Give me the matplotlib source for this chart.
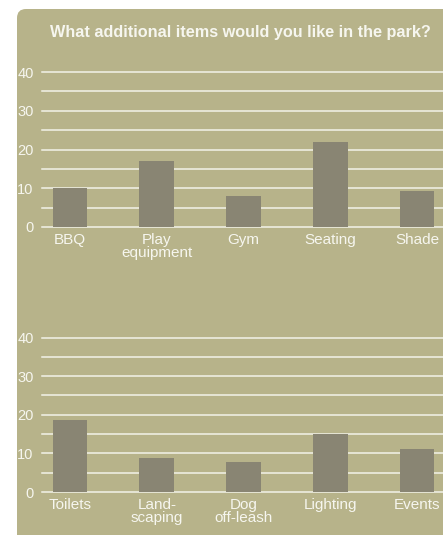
import matplotlib
matplotlib.use('Agg')
import numpy as np
import matplotlib.pyplot as plt
from matplotlib.patches import FancyBboxPatch

# data
title = 'What additional items would you like in the park?'
top_labels = ['BBQ', 'Play\nequipment', 'Gym', 'Seating', 'Shade']
top_values = [10, 17, 8, 22, 9.3]
bottom_labels = ['Toilets', 'Land-\nscaping', 'Dog\noff-leash', 'Lighting', 'Events']
bottom_values = [18.7, 8.9, 7.8, 15.1, 11.2]
y_ticks = [0, 10, 20, 30, 40]
grid_ticks = [5, 15, 25, 35]

BG = '#b7b38a'
BAR = '#898573'
GRID = '#f3f2e8'
TEXT = '#f6f6ef'

plt.rcParams['font.family'] = ['Liberation Sans', 'DejaVu Sans']

W, H = 443, 535
fig = plt.figure(figsize=(W / 100, H / 100), dpi=100)
fig.patch.set_facecolor('white')

# panel with rounded top-left corner (pixel coords)
panel = FancyBboxPatch((17, -30), 600, H - 9 + 30,
                       boxstyle='round,pad=0,rounding_size=9',
                       transform=None, facecolor=BG, edgecolor='none', zorder=-5)
fig.patches.append(panel)

fig.text(240 / W, 1 - 32 / H, title, ha='center', va='center',
         color=TEXT, fontsize=11.7, fontweight='bold')


def draw(ax, labels, values):
    x = np.arange(len(labels))
    ax.set_facecolor('none')
    ax.bar(x, values, width=0.40, color=BAR, zorder=3)
    ax.set_ylim(0, 40)
    ax.set_xlim(-0.323, 4.3)
    ax.set_yticks(y_ticks)
    ax.set_yticks(grid_ticks, minor=True)
    ax.set_yticklabels([str(t) for t in y_ticks])
    ax.set_xticks(x)
    ax.set_xticklabels(labels, linespacing=0.95)
    ax.grid(axis='y', which='both', color=GRID, linewidth=1.1, zorder=1)
    for t in ax.yaxis.get_major_ticks() + ax.yaxis.get_minor_ticks():
        t.gridline.set_clip_on(False)
    ax.set_axisbelow(True)
    for s in ax.spines.values():
        s.set_visible(False)
    ax.tick_params(axis='both', which='both', length=0, colors=TEXT)
    ax.tick_params(axis='y', pad=6, labelsize=10.5)
    ax.tick_params(axis='x', pad=4, labelsize=11)


ax1 = fig.add_axes([42 / W, (H - 227) / H, 1 - 42 / W, 155 / H])
draw(ax1, top_labels, top_values)

ax2 = fig.add_axes([42 / W, (H - 492) / H, 1 - 42 / W, 154.5 / H])
draw(ax2, bottom_labels, bottom_values)

fig.savefig('out.png', dpi=100, facecolor=fig.get_facecolor())
